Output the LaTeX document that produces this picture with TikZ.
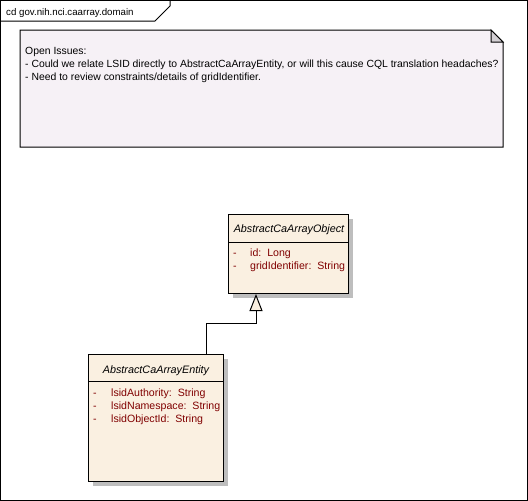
\documentclass[tikz,border=0pt]{standalone}
\usepackage{fontspec}
\setmainfont{Liberation Sans}
\usetikzlibrary{arrows.meta,shadows}
\definecolor{classfill}{RGB}{250,240,225}
\definecolor{notefill}{RGB}{246,241,246}
\definecolor{foldfill}{RGB}{212,208,212}
\definecolor{attrred}{RGB}{128,0,0}
\definecolor{shadowgray}{RGB}{190,190,190}
\tikzset{
  umltext/.style={font=\fontsize{10.4}{12}\selectfont, inner sep=0pt, anchor=base west},
  titletext/.style={umltext, font=\fontsize{9.7}{11}\selectfont},
  classbox/.style={draw=black, line width=1pt, fill=classfill, anchor=north west,
    inner sep=0pt,
    drop shadow={shadow xshift=4pt, shadow yshift=-4pt, fill=shadowgray, opacity=1}},
  classname/.style={font=\fontsize{10.8}{12}\selectfont\itshape, inner sep=0pt, anchor=base},
  attr/.style={umltext, font=\fontsize{10.6}{12}\selectfont, text=attrred},
  edge/.style={line width=1pt, draw=black},
  generalization/.style={edge, -{Triangle[length=17pt, width=13pt, fill=classfill]}},
}
\begin{document}
\begin{tikzpicture}[x=1pt, y=-1pt]
\useasboundingbox (0,0) rectangle (528,501);

% diagram frame and its name tab
\draw[line width=1pt] (0.5,0.5) rectangle (527,500.5);
\draw[line width=1pt] (0.5,21) -- (155,21) -- (170,6) -- (170,0.5);
\node[titletext] (frametitle) at (6,15) {cd gov.nih.nci.caarray.domain};

% note with folded corner
\draw[line width=1pt, fill=notefill]
  (20,30) -- (491,30) -- (503,42) -- (503,147) -- (20,147) -- cycle;
\draw[line width=1pt, fill=foldfill] (491,30) -- (491,42) -- (503,42) -- cycle;
\node[umltext] (n1) at (25,54) {Open Issues:};
\node[umltext] (n2) at (25,67) {- Could we relate LSID directly to AbstractCaArrayEntity, or will this cause CQL translation headaches?};
\node[umltext] (n3) at (25,80) {- Need to review constraints/details of gridIdentifier.};

% class AbstractCaArrayObject
\node[classbox, minimum width=120pt, minimum height=79pt] (obj) at (228,214) {};
\node[classname] (objname) at (289,232) {AbstractCaArrayObject};
\draw[edge] (obj.west |- 0,242) -- (obj.east |- 0,242);
\node[attr] at (233,256) {-};
\node[attr] at (250,256) {id:\ \ Long};
\node[attr] at (233,269) {-};
\node[attr] at (250,269) {gridIdentifier:\ \ String};

% class AbstractCaArrayEntity
\node[classbox, minimum width=135pt, minimum height=127pt] (ent) at (88,354) {};
\node[classname] (entname) at (156,373) {AbstractCaArrayEntity};
\draw[edge] (ent.west |- 0,381) -- (ent.east |- 0,381);
\node[attr] at (93,396) {-};
\node[attr] at (111,396) {lsidAuthority:\ \ String};
\node[attr] at (93,409) {-};
\node[attr] at (111,409) {lsidNamespace:\ \ String};
\node[attr] at (93,422) {-};
\node[attr] at (111,422) {lsidObjectId:\ \ String};

% generalization: entity extends object
\draw[generalization] (ent.north -| 206,0) |- (256,323) -- (obj.south -| 256,0);
\end{tikzpicture}
\end{document}
